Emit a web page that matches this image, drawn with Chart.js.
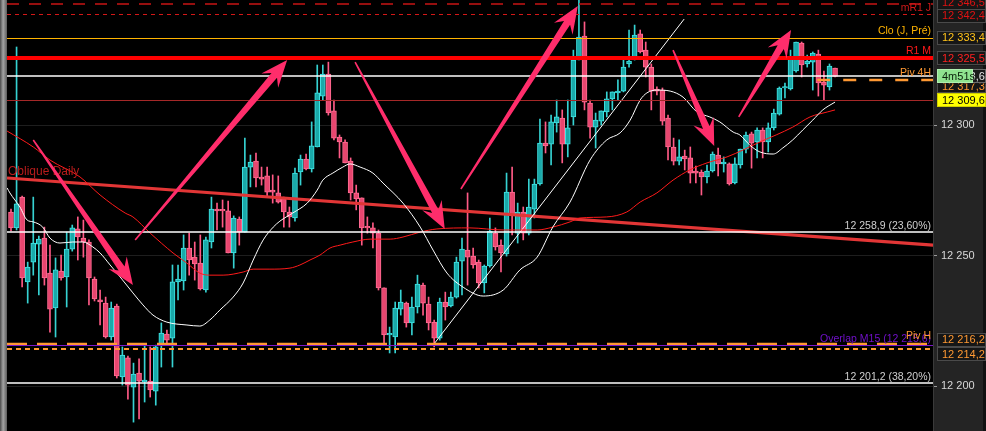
<!DOCTYPE html>
<html><head><meta charset="utf-8">
<script src="https://cdn.jsdelivr.net/npm/chart.js@4.4.1/dist/chart.umd.min.js"></script>
<style>html,body{margin:0;padding:0;background:#000;overflow:hidden}#wrap{width:986px;height:431px;position:relative}</style>
</head><body><div id="wrap"><canvas id="c" width="986" height="431"></canvas></div>
<script>
// ---------- DATA ----------
const opens = [
12266.7,12260.6,12272.4,12239.9,12247.5,12254.4,12256.7,12243.3,12229.9,12244.1,
12241.8,12252.5,12260.2,12256.7,12255.2,12241.0,12233.0,12231.8,12218.8,12230.7,
12203.5,12210.8,12199.6,12205.0,12201.6,12201.9,12198.1,12215.7,12219.9,12218.4,
12239.9,12240.3,12252.9,12249.4,12247.1,12236.8,12255.2,12267.8,12267.5,12267.1,
12251.0,12264.0,12259.0,12283.9,12286.2,12280.1,12280.5,12275.1,12274.0,12271.7,
12266.7,12264.4,12282.0,12287.0,12283.2,12291.6,12311.1,12319.5,12305.4,12295.4,
12293.5,12286.2,12274.0,12272.1,12260.9,12260.6,12258.6,12237.6,12219.6,12218.8,
12229.5,12231.8,12224.2,12230.3,12238.7,12231.4,12224.5,12218.4,12232.2,12230.7,
12234.1,12247.9,12252.1,12249.8,12247.5,12239.5,12246.0,12258.6,12254.0,12250.6,
12274.3,12258.6,12266.7,12258.6,12267.8,12277.4,12293.1,12292.7,12300.8,12302.7,
12292.7,12303.1,12324.9,12334.1,12308.4,12299.2,12301.5,12305.0,12310.0,12312.3,
12313.0,12323.4,12325.7,12334.9,12328.7,12322.2,12313.8,12313.4,12302.7,12291.6,
12286.2,12288.1,12287.4,12282.4,12282.0,12280.1,12282.4,12288.5,12285.1,12285.1,
12277.8,12284.7,12290.8,12296.6,12293.5,12298.1,12293.5,12298.9,12304.2,12314.2,
12313.8,12320.7,12331.4,12323.4,12324.1,12327.2,12316.5,12314.6,12321.8];
const highs = [
12267.8,12329.9,12272.8,12247.5,12272.4,12257.5,12260.9,12254.0,12249.1,12250.2,
12259.0,12261.7,12264.8,12263.6,12256.0,12241.8,12236.8,12234.1,12232.2,12231.4,
12215.0,12211.5,12208.8,12210.4,12215.7,12215.0,12215.7,12224.2,12221.5,12246.4,
12246.4,12257.9,12258.6,12255.2,12257.9,12257.1,12272.4,12270.1,12271.3,12270.9,
12265.2,12264.8,12295.0,12288.5,12289.3,12283.9,12283.9,12280.9,12280.5,12272.4,
12268.6,12283.5,12288.5,12288.9,12301.2,12323.0,12323.0,12324.1,12309.6,12296.2,
12294.3,12287.4,12277.0,12272.1,12264.8,12262.5,12259.8,12237.6,12222.6,12232.2,
12236.8,12232.2,12234.1,12242.5,12239.5,12234.1,12225.3,12233.7,12236.0,12236.0,
12249.4,12256.7,12274.0,12252.9,12248.3,12246.4,12264.4,12260.6,12256.0,12281.6,
12283.9,12270.1,12268.6,12279.3,12279.3,12302.3,12301.2,12303.8,12309.6,12305.8,
12309.6,12328.7,12349.0,12339.5,12309.6,12304.6,12305.4,12312.7,12312.7,12317.3,
12324.9,12336.4,12338.3,12336.4,12331.8,12323.4,12314.6,12314.2,12303.8,12295.0,
12294.3,12290.4,12291.6,12284.3,12282.8,12284.7,12289.7,12291.2,12287.8,12285.5,
12287.4,12290.8,12297.3,12297.3,12298.9,12298.9,12300.8,12306.1,12314.6,12316.1,
12328.7,12331.8,12331.8,12326.8,12328.0,12328.7,12320.7,12323.4,12321.8];
const lows = [
12259.4,12259.8,12238.0,12231.8,12242.5,12234.9,12238.7,12220.7,12218.8,12240.6,
12230.3,12251.7,12248.3,12249.4,12231.1,12232.6,12223.4,12218.4,12217.6,12203.1,
12200.4,12195.0,12186.2,12187.4,12193.9,12195.8,12192.7,12207.3,12215.7,12207.3,
12233.0,12236.8,12242.5,12240.6,12236.8,12236.0,12252.9,12259.8,12260.9,12251.0,
12245.2,12254.0,12259.0,12276.3,12276.3,12277.0,12272.4,12270.1,12270.1,12260.9,
12260.9,12263.2,12277.0,12282.8,12282.0,12291.6,12309.6,12303.8,12294.3,12287.4,
12285.5,12271.3,12267.5,12254.0,12258.6,12252.9,12236.8,12216.5,12212.7,12212.7,
12227.2,12222.6,12219.6,12228.0,12227.2,12221.5,12215.0,12217.6,12225.3,12230.3,
12233.7,12234.9,12238.7,12245.2,12237.6,12235.7,12245.6,12252.1,12243.7,12249.8,
12257.9,12254.8,12256.0,12257.9,12264.4,12277.0,12289.3,12284.7,12297.3,12285.5,
12287.8,12300.0,12324.9,12305.8,12295.0,12291.2,12300.0,12303.1,12305.8,12309.6,
12312.7,12322.2,12324.9,12327.6,12318.4,12305.8,12311.5,12300.0,12286.6,12284.7,
12284.7,12282.8,12277.8,12277.8,12273.2,12277.8,12282.0,12280.5,12282.0,12277.0,
12277.4,12283.5,12289.3,12283.5,12287.4,12287.4,12289.7,12298.1,12303.8,12310.4,
12313.4,12320.3,12318.4,12322.2,12313.4,12311.1,12309.6,12313.4,12318.4];
const closes = [
12260.6,12269.8,12241.4,12245.6,12254.8,12256.3,12241.4,12229.5,12244.5,12241.4,
12252.5,12260.6,12257.1,12255.2,12241.4,12233.4,12232.2,12218.8,12229.9,12203.9,
12211.9,12200.4,12204.6,12201.9,12202.3,12198.5,12215.0,12220.3,12217.6,12239.9,
12241.0,12252.9,12248.3,12246.8,12237.2,12256.0,12267.8,12267.1,12267.1,12251.0,
12264.4,12259.0,12283.9,12285.8,12279.7,12279.3,12274.3,12274.3,12270.5,12266.7,
12264.8,12281.6,12287.0,12283.2,12292.0,12312.3,12319.5,12304.6,12295.0,12293.5,
12285.5,12274.0,12271.7,12260.6,12260.6,12258.6,12237.6,12219.6,12219.9,12229.9,
12232.2,12224.2,12230.3,12239.1,12231.8,12224.2,12218.4,12232.2,12230.3,12234.1,
12247.5,12252.5,12249.4,12246.4,12239.5,12246.0,12259.4,12253.3,12251.0,12274.3,
12265.5,12266.7,12258.6,12268.6,12277.4,12293.1,12292.0,12301.2,12303.1,12292.7,
12298.9,12324.9,12333.7,12308.8,12299.2,12301.9,12305.4,12310.0,12312.7,12313.0,
12322.2,12324.5,12334.5,12328.0,12322.2,12313.0,12313.0,12301.5,12291.6,12286.2,
12287.8,12287.0,12281.6,12281.6,12280.1,12282.4,12288.9,12285.1,12285.8,12277.4,
12285.1,12290.8,12296.2,12293.1,12298.1,12293.5,12298.9,12304.6,12314.2,12314.6,
12326.1,12331.8,12323.0,12324.5,12327.6,12316.1,12315.3,12322.6,12318.6];

// short moving average (white) sampled at bar positions
const maShortIdx = [-0.7,-0.2,1.6,2.9,4.0,5.7,7.0,8.8,11.1,12.9,14.7,16.0,17.8,19.6,21.9,23.7,25.5,28.0,31.6,33.9,35.7,37.5,39.9,41.7,43.5,45.3,47.1,48.3,50.6,53.2,55.0,56.0,57.8,59.6,60.9,62.7,65.0,66.8,70.4,73.5,75.8,78.3,81.2,84.8,88.4,91.4,94.5,97.3,100.4,104.0,107.0,109.4,111.2,113.0,114.2,116.0,118.4,120.7,123.2,125.5,127.3,129.7,130.9,132.7,134.5,136.9,138.6,140.4,142.2,144.0,145.8,148.0];
const maShortVal = [12275.9,12274.0,12268.6,12263.6,12262.9,12260.9,12256.7,12254.8,12255.2,12255.2,12253.3,12251.0,12246.4,12241.8,12235.7,12231.1,12227.2,12224.5,12223.4,12223.0,12225.3,12229.1,12234.1,12239.5,12248.3,12256.0,12260.9,12263.2,12266.3,12270.1,12275.1,12278.9,12281.6,12283.9,12285.1,12283.9,12281.6,12277.8,12270.1,12260.9,12252.1,12243.3,12237.9,12234.5,12236.8,12244.5,12249.4,12260.9,12270.5,12286.6,12294.3,12297.0,12301.9,12309.6,12312.3,12313.4,12313.0,12310.7,12305.0,12303.1,12301.2,12297.3,12296.2,12292.3,12289.7,12288.9,12291.2,12294.3,12298.1,12301.9,12305.8,12308.8];
// long moving average (thin red)
const maLongIdx = [-0.7,4.0,7.0,12.4,16.0,20.5,21.9,25.0,29.1,31.6,33.9,35.7,38.1,41.7,43.5,46.5,50.1,51.9,53.7,55.5,57.3,59.1,61.4,64.5,68.1,70.4,73.5,76.5,82.4,88.4,94.5,97.3,100.4,102.2,107.0,110.6,113.0,116.0,118.9,121.9,125.0,128.6,134.5,140.4,143.5,146.6,148.0];
const maLongVal = [12297.7,12291.6,12286.6,12280.1,12273.2,12266.3,12264.8,12258.6,12251.0,12247.1,12243.3,12242.5,12242.5,12243.7,12244.8,12244.8,12245.2,12246.4,12248.3,12250.2,12252.9,12254.0,12255.2,12256.3,12256.3,12257.1,12259.0,12260.2,12260.6,12259.8,12259.8,12260.9,12262.9,12264.4,12264.8,12266.7,12270.5,12274.0,12278.9,12282.8,12285.5,12287.8,12293.5,12299.2,12303.1,12305.0,12305.8];

// oblique daily line and rising trendline
const obliqueIdx = [-0.72, 165.6];
const obliqueVal = [12279.7, 12254.0];
const trendIdx = [76.1, 120.9];
const trendVal = [12216.5, 12340.6];

// horizontal levels
const levelValues = [12346.5, 12342.4, 12333.4, 12325.5, 12317.3, 12309.6, 12216.2, 12215.6, 12214.2];
const levelTexts  = ['mR1 J', '', 'Clo (J, Pré)', 'R1 M', 'Piv 4H', '', 'Piv H', 'Overlap M15 (12 215,6)', ''];
const pivot4hStartIdx = 144.8;
const fibValues = [12258.9, 12201.2];
const fibTexts = ['12 258,9 (23,60%)', '12 201,2 (38,20%)'];
const obliqueText = 'Oblique Daily';
const countdownText = '4m51s';

// hand-drawn arrows (bar index, price)
const arrowFromIdx = [4.0, 22.3, 61.8, 80.8, 118.9, 130.7];
const arrowFromVal = [12294.3, 12256.0, 12324.1, 12275.5, 12328.7, 12303.1];
const arrowToIdx   = [21.9, 49.6, 77.9, 101.8, 126.3, 140.1];
const arrowToVal   = [12238.7, 12324.9, 12260.2, 12345.6, 12292.0, 12336.4];

const yTicks = [12200, 12250, 12300];

// ---------- HELPERS ----------
const FONT = "'Liberation Sans', Arial, sans-serif";
function fmtInt(v){ const s=String(Math.round(v)); return s.slice(0,s.length-3)+' '+s.slice(-3); }
function fmtDec(v){ const s=v.toFixed(1); const [a,b]=s.split('.'); return a.slice(0,a.length-3)+' '+a.slice(-3)+','+b; }
const idx = opens.map((_,i)=>i);
const isUp = idx.map(i=>closes[i]>=opens[i]);
const lastPrice = closes[closes.length-1];

const overlay = {
  id:'overlay',
  beforeDraw(chart){
    const {ctx, chartArea:ca, width, height} = chart;
    ctx.save();
    ctx.fillStyle='#000'; ctx.fillRect(0,0,width,height);
    ctx.fillStyle='#242424'; ctx.fillRect(ca.right,0,width-ca.right,height);
    ctx.fillStyle='#121212'; ctx.fillRect(width-3,0,3,height);
    const g=ctx.createLinearGradient(0,0,ca.left,0);
    g.addColorStop(0,'#4a4a4a'); g.addColorStop(0.45,'#a4a4a4'); g.addColorStop(1,'#5c5c5c');
    ctx.fillStyle=g; ctx.fillRect(0,0,ca.left,height);
    ctx.restore();
  },
  afterDatasetsDraw(chart){
    const {ctx, chartArea:ca} = chart;
    const xS=chart.scales.x, yS=chart.scales.y;
    ctx.save();
    ctx.beginPath(); ctx.rect(ca.left,ca.top,ca.right-ca.left,ca.bottom-ca.top); ctx.clip();
    const Y=v=>yS.getPixelForValue(v);
    function hline(v,color,w,dash,x0){
      let y=Y(v); if (w%2===1) y=Math.round(y)+0.5; else y=Math.round(y);
      ctx.beginPath(); ctx.strokeStyle=color; ctx.lineWidth=w; ctx.setLineDash(dash||[]);
      ctx.moveTo(x0!==undefined?x0:ca.left,y); ctx.lineTo(ca.right,y); ctx.stroke(); ctx.setLineDash([]);
    }
    const styles = [
      {c:'#c81414', w:1.5, d:[12,10]},
      {c:'#d41818', w:1, d:[4,4]},
      {c:'#ffb400', w:1},
      {c:'#ff0000', w:4},
      {c:'#ff9933', w:2.5, d:[13,13], from:true},
      {c:'#a52828', w:1},
      {c:'#ff9933', w:2.5, d:[20,10]},
      {c:'#7a16c8', w:1},
      {c:'#ff9933', w:2, d:[5,4]},
    ];
    fibValues.forEach(v=>hline(v,'#ffffff',1.5));
    levelValues.forEach((v,k)=>{
      const s=styles[k];
      hline(v,s.c,s.w,s.d, s.from? xS.getPixelForValue(pivot4hStartIdx):undefined);
    });
    hline(lastPrice,'#ffffff',1.5);

    ctx.font='10.5px '+FONT; ctx.textAlign='right'; ctx.textBaseline='middle';
    const tx=ca.right-2;
    const textStyle=[
      {c:'#d01a1a', dy:4},{},{c:'#ffb400', dy:-7},{c:'#ff1a1a', dy:-7},{c:'#ff9933', dy:-7},{},
      {c:'#ff9933', dy:-8},{c:'#7010c8', dy:-6},{}
    ];
    [7,0,2,3,4,6].forEach(k=>{
      const s=textStyle[k]; ctx.fillStyle=s.c; ctx.fillText(levelTexts[k], tx, Y(levelValues[k])+s.dy);
    });
    ctx.fillStyle='#cfcfcf';
    fibTexts.forEach((t,k)=>ctx.fillText(t, tx, Y(fibValues[k])-6));
    ctx.font='12px '+FONT; ctx.textAlign='left'; ctx.fillStyle='#b81c1c';
    ctx.fillText(obliqueText, ca.left+1, Y(obliqueVal[0])-6);

    ctx.fillStyle='#ff2d6b';
    for(let k=0;k<arrowFromIdx.length;k++){
      const x1=xS.getPixelForValue(arrowFromIdx[k]), y1=Y(arrowFromVal[k]);
      const x2=xS.getPixelForValue(arrowToIdx[k]), y2=Y(arrowToVal[k]);
      const dx=x2-x1, dy=y2-y1, L=Math.hypot(dx,dy), ux=dx/L, uy=dy/L, nx=-uy, ny=ux;
      const P=(a,b)=>[x2+ux*a+nx*b, y2+uy*a+ny*b];
      const pts=[[x1+nx*0.8,y1+ny*0.8], P(-20,3.6), P(-27,11), [x2,y2], P(-27,-11), P(-20,-3.6), [x1-nx*0.8,y1-ny*0.8]];
      ctx.beginPath(); ctx.moveTo(pts[0][0],pts[0][1]); pts.slice(1).forEach(p=>ctx.lineTo(p[0],p[1])); ctx.closePath(); ctx.fill();
    }
    ctx.restore();
  },
  afterDraw(chart){
    const {ctx, chartArea:ca, width} = chart;
    const yS=chart.scales.y;
    ctx.save();
    const bx=ca.right+4;
    function box(cy,text,fg,bg,border,w){
      const bw=w||(width-bx);
      ctx.fillStyle=bg; ctx.fillRect(bx,cy-7,bw,14);
      ctx.strokeStyle=border; ctx.lineWidth=1; ctx.strokeRect(bx+0.5,Math.round(cy-7)+0.5,bw-1,13);
      ctx.fillStyle=fg; ctx.font='11px '+FONT; ctx.textAlign='left'; ctx.textBaseline='middle';
      ctx.fillText(text,bx+5,cy+0.5);
    }
    const Y=v=>yS.getPixelForValue(v);
    box(Y(levelValues[0])-1,fmtDec(levelValues[0]),'#e01212','#161616','#4a4a4a');
    box(Y(levelValues[1])+1.5,fmtDec(levelValues[1]),'#e01212','#161616','#4a4a4a');
    box(Y(levelValues[2]),fmtDec(levelValues[2]),'#ffc21a','#161616','#4a4a4a');
    box(Y(levelValues[3]),fmtDec(levelValues[3]),'#ff2020','#161616','#4a4a4a');
    box(Y(levelValues[4])+6.5,fmtDec(levelValues[4]),'#ff9933','#161616','#4a4a4a');
    box(Y(lastPrice),fmtDec(lastPrice),'#e8e8e8','#1a1a1a','#6a6a6a');
    box(Y(lastPrice)-0.5,countdownText,'#0a200a','#8fe38f','#b0f0b0',36);
    box(Y(levelValues[5]),fmtDec(levelValues[5]),'#000000','#ffff00','#d0d000');
    box(Y(levelValues[6])-4,fmtDec(levelValues[6]),'#ff9933','#161616','#4a4a4a');
    box(Y(levelValues[8])+5,fmtDec(levelValues[8]),'#ff9933','#161616','#4a4a4a');
    ctx.restore();
  }
};

// ---------- CHART ----------
const ctx = document.getElementById('c').getContext('2d');
new Chart(ctx,{
  type:'bar',
  data:{
    datasets:[
      {type:'line', label:'Oblique', data:obliqueIdx.map((x,k)=>({x,y:obliqueVal[k]})), borderColor:'#e23636', borderWidth:3, pointRadius:0, order:2},
      {type:'line', label:'MA short', data:maShortIdx.map((x,k)=>({x,y:maShortVal[k]})), borderColor:'#ffffff', borderWidth:1, pointRadius:0, cubicInterpolationMode:'monotone', order:1},
      {type:'line', label:'MA long', data:maLongIdx.map((x,k)=>({x,y:maLongVal[k]})), borderColor:'#ff1a1a', borderWidth:1, pointRadius:0, cubicInterpolationMode:'monotone', order:1},
      {type:'line', label:'Trend', data:trendIdx.map((x,k)=>({x,y:trendVal[k]})), borderColor:'#ffffff', borderWidth:1, pointRadius:0, order:1},
      {label:'Wicks', data:idx.map(i=>({x:i,y:[lows[i],highs[i]]})), backgroundColor:idx.map(i=>isUp[i]?'#36d2d2':'#ff5a86'), borderWidth:0, barThickness:1, grouped:false, order:11},
      {label:'Bodies', data:idx.map(i=>({x:i,y:[opens[i],closes[i]]})), backgroundColor:idx.map(i=>isUp[i]?'#1aa9a9':'#e8466f'), borderColor:idx.map(i=>isUp[i]?'#40e4e4':'#ff6c93'), borderWidth:1, borderSkipped:false, barThickness:5, minBarLength:1.5, grouped:false, order:10}
    ]
  },
  options:{
    responsive:false, animation:false, devicePixelRatio:1,
    layout:{padding:{left:7,right:0,top:0,bottom:0}},
    plugins:{legend:{display:false}, tooltip:{enabled:false}},
    scales:{
      x:{type:'linear', min:-0.718, max:165.59, offset:false, display:false, grid:{display:false}},
      y:{type:'linear', position:'right', min:12182.8, max:12347.9,
        afterFit(s){ s.width=53; s.paddingTop=0; s.paddingBottom=0; },
        afterBuildTicks(s){ s.ticks = yTicks.map(v=>({value:v})); },
        ticks:{color:'#d8d8d8', font:{size:11, family:FONT}, padding:4, callback:v=>fmtInt(v)},
        grid:{color:'#1e1e1e', tickColor:'#9a9a9a', tickLength:4, lineWidth:1},
        border:{color:'#3a3a3a'}
      }
    }
  },
  plugins:[overlay]
});
</script></body></html>
